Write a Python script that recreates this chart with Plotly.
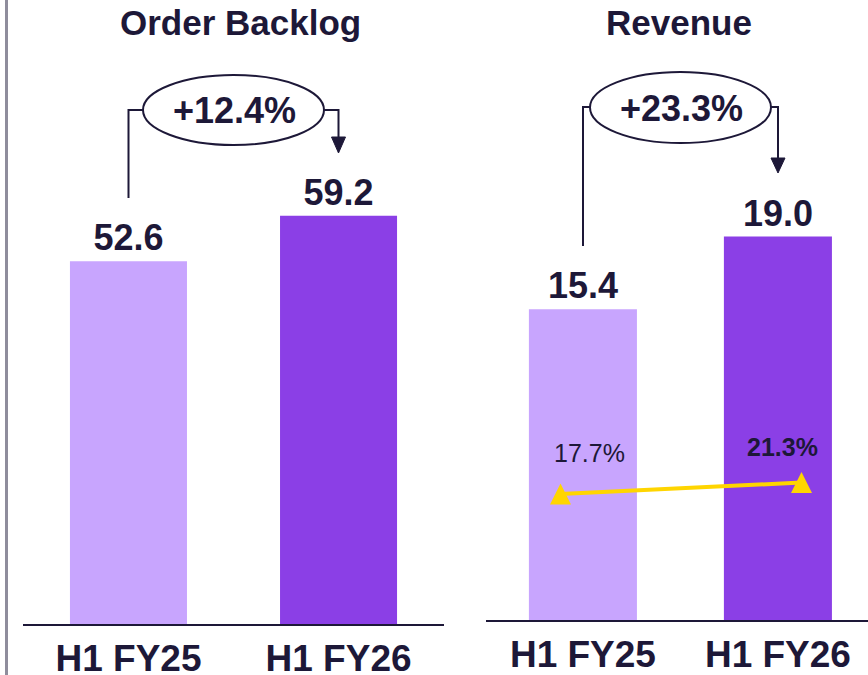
import plotly.graph_objects as go

# ---- data ----
periods = ["H1 FY25", "H1 FY26"]
order_backlog = [52.6, 59.2]
revenue = [15.4, 19.0]
margin_pct = [17.7, 21.3]
backlog_growth = "+12.4%"
revenue_growth = "+23.3%"
titles = ["Order Backlog", "Revenue"]

# ---- style ----
W, H = 868, 675
INK = "#1d1838"
LIGHT = "#c8a5fe"
DARK = "#8b3fe6"
YELLOW = "#ffd500"
FONT = "Liberation Sans, Arial, sans-serif"


def px(x):
    return x / W


def py(y):
    return 1 - y / H


fig = go.Figure()

fig.add_trace(go.Bar(
    x=[0, 1], y=order_backlog, xaxis="x", yaxis="y",
    marker=dict(color=[LIGHT, DARK], line=dict(width=0)),
    width=0.557,
    text=[f"{v:.1f}" for v in order_backlog], textposition="outside",
    textfont=dict(family=FONT, size=36, color=INK, weight="bold"),
    constraintext="none", cliponaxis=False, showlegend=False,
))
fig.add_trace(go.Bar(
    x=[0, 1], y=revenue, xaxis="x2", yaxis="y2",
    marker=dict(color=[LIGHT, DARK], line=dict(width=0)),
    width=0.554,
    text=[f"{v:.1f}" for v in revenue], textposition="outside",
    textfont=dict(family=FONT, size=36, color=INK, weight="bold"),
    constraintext="none", cliponaxis=False, showlegend=False,
))
# margin line
fig.add_trace(go.Scatter(
    x=periods, y=margin_pct, xaxis="x3", yaxis="y3",
    mode="lines", line=dict(color=YELLOW, width=4),
    cliponaxis=False, showlegend=False,
))
# margin triangles (apex above point, base below)
fig.add_trace(go.Scatter(
    x=periods, y=margin_pct, xaxis="x3", yaxis="y3",
    mode="markers",
    marker=dict(symbol="arrow-down", angle=180, size=21, standoff=10.5, color=YELLOW,
                line=dict(width=0)),
    cliponaxis=False, showlegend=False,
))

axis_common = dict(showgrid=False, zeroline=False, fixedrange=True, automargin=False)

fig.update_layout(
    width=W, height=H,
    margin=dict(l=0, r=0, t=0, b=0),
    paper_bgcolor="white", plot_bgcolor="rgba(0,0,0,0)",
    font=dict(family=FONT, color=INK),
    xaxis=dict(domain=[px(23), px(444)], range=[-0.502, 1.502],
               tickvals=[0, 1], ticktext=periods, ticks="", ticklabelstandoff=1,
               tickfont=dict(family=FONT, size=37, color=INK, weight="bold"),
               showline=True, linecolor=INK, linewidth=2, anchor="y",
               **axis_common),
    yaxis=dict(domain=[py(624), 1], range=[0, 624 / 6.895], visible=False,
               anchor="x", **axis_common),
    xaxis2=dict(domain=[px(486), 1], range=[-0.497, 1.462],
                tickvals=[0, 1], ticktext=periods, ticks="", ticklabelstandoff=1,
                tickfont=dict(family=FONT, size=37, color=INK, weight="bold"),
                showline=True, linecolor=INK, linewidth=2, anchor="y2",
                **axis_common),
    yaxis2=dict(domain=[py(620), 1], range=[0, 620 / 20.18], visible=False,
                anchor="x2", **axis_common),
    xaxis3=dict(overlaying="x2", type="category", range=[-0.309, 1.276],
                visible=False, anchor="y3", **axis_common),
    yaxis3=dict(overlaying="y2", range=[-21.8, 172.6], visible=False,
                anchor="x3", **axis_common),
)

C = dict(xanchor="center", yanchor="middle", showarrow=False)
annotations = []
# titles
annotations.append(dict(text=f"<b>{titles[0]}</b>", x=px(240), y=py(22), xref="paper", yref="paper",
                        font=dict(size=35, color=INK, family=FONT), **C))
annotations.append(dict(text=f"<b>{titles[1]}</b>", x=px(679), y=py(22), xref="paper", yref="paper",
                        font=dict(size=35, color=INK, family=FONT), **C))
# growth labels
annotations.append(dict(text=f"<b>{backlog_growth}</b>", x=px(234), y=py(111), xref="paper", yref="paper",
                        font=dict(size=36, color=INK, family=FONT), **C))
annotations.append(dict(text=f"<b>{revenue_growth}</b>", x=px(681), y=py(108), xref="paper", yref="paper",
                        font=dict(size=36, color=INK, family=FONT), **C))
# margin labels
annotations.append(dict(text=f"{margin_pct[0]:.1f}%", x=periods[0], y=margin_pct[0], xref="x3", yref="y3",
                        xshift=29.5, yshift=41, font=dict(size=25, color=INK, family=FONT), **C))
annotations.append(dict(text=f"<b>{margin_pct[1]:.1f}%</b>", x=periods[1], y=margin_pct[1], xref="x3", yref="y3",
                        xshift=-18.5, yshift=35.5, font=dict(size=25, color=INK, family=FONT), **C))
fig.update_layout(annotations=annotations)


def path(points, close=False):
    s = "M " + " L ".join(f"{px(x)},{py(y)}" for x, y in points)
    return s + (" Z" if close else "")


shapes = []
# left separator
shapes.append(dict(type="line", xref="paper", yref="paper", x0=px(6.5), x1=px(6.5), y0=0, y1=1,
                   line=dict(color="#8f8d9c", width=3)))
# backlog connector
shapes.append(dict(type="path", xref="paper", yref="paper", path=path([(128.5, 198), (128.5, 110), (143, 110)]),
                   line=dict(color=INK, width=2)))
shapes.append(dict(type="circle", xref="paper", yref="paper", x0=px(143), x1=px(324), y0=py(145), y1=py(75),
                   line=dict(color=INK, width=2), fillcolor="white"))
shapes.append(dict(type="path", xref="paper", yref="paper", path=path([(324, 110), (338.5, 110), (338.5, 140)]),
                   line=dict(color=INK, width=2)))
shapes.append(dict(type="path", xref="paper", yref="paper", path=path([(331.5, 137), (345.5, 137), (338.5, 153)], True),
                   line=dict(color=INK, width=1), fillcolor=INK))
# revenue connector
shapes.append(dict(type="path", xref="paper", yref="paper", path=path([(583, 246), (583, 107), (590, 107)]),
                   line=dict(color=INK, width=2)))
shapes.append(dict(type="circle", xref="paper", yref="paper", x0=px(590), x1=px(771), y0=py(143), y1=py(72),
                   line=dict(color=INK, width=2), fillcolor="white"))
shapes.append(dict(type="path", xref="paper", yref="paper", path=path([(771, 107), (778, 107), (778, 160)]),
                   line=dict(color=INK, width=2)))
shapes.append(dict(type="path", xref="paper", yref="paper", path=path([(771, 158), (785, 158), (778, 173)], True),
                   line=dict(color=INK, width=1), fillcolor=INK))
for s in shapes:
    s["layer"] = "below" if s["type"] == "circle" else "above"
fig.update_layout(shapes=shapes)

fig.write_html("out.html", config={"displayModeBar": False},
               post_script="document.body.style.margin='0';")
